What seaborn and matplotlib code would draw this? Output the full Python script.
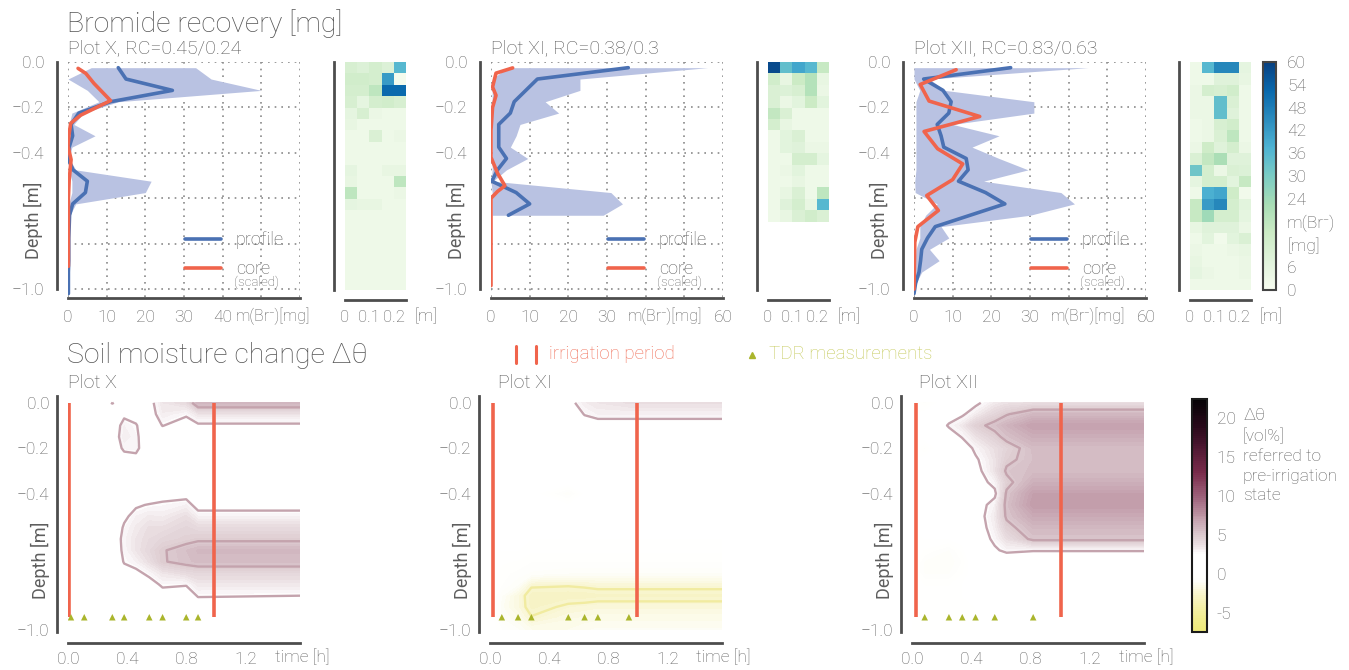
import numpy as np
import pandas as pd
import matplotlib
matplotlib.use('Agg')
import matplotlib.pyplot as plt
import seaborn as sns
from matplotlib.colors import LinearSegmentedColormap
from matplotlib.lines import Line2D

# ---------------- data ----------------
# Bromide profiles (depth [m] negative, mass [mg])
prof_depth = [-0.025, -0.075, -0.125, -0.175, -0.225, -0.275, -0.325, -0.375, -0.425, -0.475,
              -0.525, -0.575, -0.625, -0.675, -0.725, -0.775, -0.825, -0.875, -0.925, -0.975, -1.02]

profX = [13, 15, 27, 11, 2.8, 0.8, 1.2, 0.3, 0.0, 1.3, 5.0, 4.5, 1.2, 0.4, 0.3, 0.2, 0.2, 0.2, 0.1, 0.1, 0.1]
profX_lo = [6, 0, 5, 8, 1, 0.3, 0, 0, 0, 0.3, 1, 1, 0.2, 0.1, 0.1, 0.1, 0.1, 0.1, 0.1, 0.1, 0.1]
profX_hi = [33, 37, 50, 13, 4, 1.5, 7, 1, 0.3, 2, 21.5, 20, 2, 0.5, 0.3, 0.2, 0.2, 0.2, 0.1, 0.1, 0.1]
coreX_depth = [-0.028, -0.05, -0.094, -0.17, -0.234, -0.27, -0.315, -0.37, -0.43, -0.52, -0.6, -0.7, -0.8, -0.9]
coreX = [2.6, 4.6, 6.7, 11, 3.3, 0.7, 0.3, 0.0, 0.8, 0.3, 0.1, 0.1, 0.1, 0.1]

profXI = [35.5, 12, 9, 6, 5, 2, 2, 2, 4, 1.7, 0.2, 6.5, 10, 4.5]
profXI_lo = [4, 0.4, 0.3, 0.3, 0.3, 0.3, 0.3, 0.3, 0.3, 0.3, 0.0, 0.3, 0.3, 0.3]
profXI_hi = [56, 23, 23, 14, 17.5, 7.5, 6.5, 5, 9.5, 4, 0.5, 31, 34, 29]
coreXI_depth = [-0.026, -0.049, -0.11, -0.147, -0.2, -0.25, -0.3, -0.42, -0.49, -0.545, -0.57, -0.6, -0.985]
coreXI = [5.6, 1.3, 0.4, 1.3, 0.4, 0.2, 0.0, 0.0, 1.7, 3.6, 1.7, 0.0, 0.0]

profXII = [25, 2.5, 7.5, 9.6, 9, 6, 7, 7.7, 13.5, 14, 11.5, 18.5, 23.5, 14.5, 5.5, 3.5, 2, 1.7, 1.3, 0.4, 0]
profXII_lo = [0, 0, 1.5, 0.5, 0.5, 0.5, 0.5, 0.5, 0.5, 0.5, 0.2, 0.3, 6, 3, 1.5, 1.5, 0.5, 0.3, 0.3, 0, 0]
profXII_hi = [45, 4, 8, 31, 31, 10, 22, 15, 22, 29.5, 18, 38, 41.5, 30, 7, 9, 4, 6.5, 2, 0.5, 0]
coreXII_depth = [-0.034, -0.099, -0.172, -0.24, -0.306, -0.382, -0.449, -0.518, -0.588, -0.654, -0.725, -0.794, -1.0]
coreXII = [10.9, 1.6, 3.9, 17, 2.6, 6.1, 12.6, 10, 3.3, 6.3, 1.0, 0.2, 0.0]

# Bromide core grids (rows: 0.05 m depth steps, cols: 0.05 m)
nan = np.nan
gridX = [[11, 9, 12, 9, 36], [13, 13, 12, 42, 1], [12, 12, 18, 52, 52], [11, 6, 12, 13, 11],
         [6, 11, 4, 3, 3], [5, 3, 3, 3, 3], [3, 3, 10, 3, 4], [3, 3, 3, 3, 3], [3, 3, 3, 3, 3],
         [6, 3, 3, 5, 5], [5, 3, 3, 3, 18], [18, 3, 3, 3, 4], [6, 5, 5, 3, 3], [3, 3, 3, 3, 3],
         [3, 3, 3, 3, 3], [3, 3, 3, 3, 3], [3, 3, 3, 3, 3], [3, 3, 3, 3, 3], [3, 3, 3, 3, 3],
         [3, 3, 3, 3, 3]]
gridXI = [[58, 34, 40, 36, 16], [13, 5, 15, 20, 5], [10, 9, 11, 20, 4], [10, 4, 7, 15, 7],
          [17, 10, 3, 3, 3], [12, 5, 3, 3, 3], [3, 7, 10, 3, 3], [3, 7, 8, 4, 4],
          [3, 3, 12, 12, 6], [3, 4, 7, 3, 3], [3, 3, 5, 3, 3], [3, 5, 10, 3, 18],
          [3, 8, 12, 5, 36], [3, 5, 10, 13, 10]] + [[nan] * 5] * 6
gridXII = [[3, 36, 46, 46, 6], [3, 3, 8, 8, 5], [4, 12, 11, 13, 3], [4, 4, 34, 10, 3],
           [4, 4, 34, 8, 3], [3, 4, 11, 13, 3], [3, 4, 10, 18, 3], [4, 14, 8, 12, 4],
           [10, 17, 22, 8, 8], [32, 12, 4, 10, 9], [6, 12, 12, 7, 16], [3, 38, 40, 14, 2],
           [16, 42, 46, 12, 7], [16, 24, 12, 12, 6], [5, 8, 8, 8, 4], [3, 7, 2, 7, 10],
           [4, 3, 3, 4, 5], [5, 3, 3, 3, 4], [6, 4, 3, 3, 4], [3, 3, 3, 3, 3]]

# Soil moisture change (depth rows 0..1.0 m by 0.05, one list per time column)
theta_depth = [0.0, 0.05, 0.10, 0.15, 0.20, 0.25, 0.30, 0.35, 0.40, 0.45, 0.50,
               0.55, 0.60, 0.65, 0.70, 0.75, 0.80, 0.85, 0.90, 0.95, 1.00]

timesX = [0.0, 0.11, 0.30, 0.38, 0.46, 0.55, 0.64, 0.80, 0.88, 1.57]
thetaX = [
    [0] * 21,
    [0.5, 0.4, 0.4, 0.4, 0.3, 0.3, 0.3, 0.3, 0.3, 0.3, 0.3, 0.4, 0.5, 0.5, 0.4, 0.3, 0.3, 0.3, 0.3, 0.3, 0.3],
    [2.6, 1.2, 1.5, 1.6, 1.4, 1.0, 0.6, 0.5, 0.5, 0.6, 0.9, 1.2, 1.5, 1.5, 1.3, 1.0, 0.7, 0.5, 0.4, 0.3, 0.3],
    [1.8, 2.2, 3.0, 3.2, 2.8, 1.8, 1.0, 0.8, 0.9, 1.6, 2.2, 2.7, 2.9, 2.8, 2.6, 2.0, 1.4, 0.9, 0.6, 0.4, 0.3],
    [1.5, 2.0, 2.6, 2.8, 2.9, 2.0, 1.2, 1.0, 1.2, 2.3, 3.0, 3.3, 3.5, 3.5, 3.0, 2.2, 1.5, 1.0, 0.6, 0.4, 0.3],
    [2.0, 1.8, 1.5, 1.3, 1.2, 1.0, 0.9, 0.9, 1.3, 2.6, 3.3, 3.8, 4.0, 4.2, 3.8, 2.8, 2.0, 1.3, 0.8, 0.5, 0.4],
    [3.5, 3.2, 2.55, 1.5, 1.0, 0.8, 0.7, 0.8, 2.0, 2.7, 3.2, 3.8, 4.3, 4.9, 4.9, 3.5, 2.7, 2.0, 1.2, 0.7, 0.5],
    [4.0, 2.7, 1.8, 1.2, 0.9, 0.8, 0.7, 0.8, 2.0, 3.0, 3.8, 4.3, 4.6, 5.5, 5.4, 4.0, 2.6, 1.8, 1.2, 0.7, 0.5],
    [6.0, 3.5, 2.3, 1.4, 1.0, 0.8, 0.7, 0.8, 1.4, 2.0, 3.0, 4.0, 4.8, 5.8, 5.6, 4.2, 3.4, 2.6, 1.8, 1.0, 0.6],
    [6.0, 3.5, 2.3, 1.4, 1.0, 0.8, 0.7, 0.8, 1.4, 2.0, 3.0, 4.0, 4.8, 5.8, 5.6, 4.2, 3.4, 2.5, 1.8, 1.0, 0.6],
]
tdrX = [0.02, 0.11, 0.30, 0.38, 0.55, 0.64, 0.80, 0.88]
irrX = [0.01, 0.985]

timesXI = [0.0, 0.08, 0.19, 0.28, 0.53, 0.64, 0.73, 0.94, 1.57]
thetaXI = [
    [0] * 21,
    [0.3, 0.2, 0.2, 0.2, 0.2, 0.2, 0.2, 0.2, 0.2, 0.2, 0.2, 0.2, 0.1, 0.0, -0.2, -0.4, -0.5, -1.0, -1.2, -1.0, -0.5],
    [0.5, 0.3, 0.3, 0.2, 0.2, 0.2, 0.2, 0.2, 0.2, 0.2, 0.2, 0.2, 0.1, 0.0, -0.3, -0.6, -1.0, -2.0, -2.0, -1.5, -1.0],
    [0.8, 0.4, 0.3, 0.2, 0.2, 0.2, 0.2, 0.2, 0.2, 0.2, 0.2, 0.1, 0.0, -0.2, -0.5, -0.8, -2.3, -3.0, -2.9, -2.4, -1.5],
    [2.0, 1.0, 0.5, 0.3, 0.2, 0.2, 0.2, 0.2, -1.0, 0.0, 0.2, 0.1, 0.0, -0.2, -0.5, -1.0, -2.4, -3.0, -2.3, -1.8, -1.5],
    [3.2, 2.6, 1.5, 0.5, 0.3, 0.2, 0.2, 0.2, 0.0, 0.1, 0.2, 0.1, 0.0, -0.2, -0.5, -1.0, -2.3, -3.0, -2.2, -1.7, -1.3],
    [3.5, 3.0, 1.8, 0.6, 0.3, 0.2, 0.2, 0.2, 0.1, 0.1, 0.2, 0.1, 0.0, -0.2, -0.5, -1.0, -2.2, -2.9, -2.1, -1.6, -1.2],
    [3.8, 3.0, 1.8, 0.6, 0.3, 0.2, 0.2, 0.2, 0.1, 0.1, 0.2, 0.1, 0.0, -0.2, -0.5, -1.0, -2.2, -2.9, -2.1, -1.6, -1.2],
    [3.8, 3.0, 1.8, 0.6, 0.3, 0.2, 0.2, 0.2, 0.1, 0.1, 0.2, 0.1, 0.0, -0.2, -0.5, -1.0, -2.2, -2.9, -2.1, -1.6, -1.2],
]
tdrXI = [0.08, 0.19, 0.28, 0.53, 0.64, 0.73, 0.94]
irrXI = [0.018, 0.995]

timesXII = [0.0, 0.086, 0.25, 0.34, 0.43, 0.56, 0.64, 0.82, 1.57]
thetaXII = [
    [0] * 21,
    [-0.6, 0.2, 0.2, 0.2, -0.6, 0.2, 0.2, 0.2, 0.2, 0.2, 0.2, 0.2, 0.0, -0.3, -0.8, -0.8, -0.3, 0.0, 0.0, 0.0, 0.0],
    [0.5, 1.6, 2.7, 1.6, 0.8, 0.4, 0.3, 0.3, 0.3, 0.3, 0.3, 0.2, 0.0, -0.8, -1.0, -0.8, -0.3, 0.0, 0.0, 0.0, 0.0],
    [1.2, 2.3, 3.4, 2.6, 1.6, 1.0, 0.8, 0.6, 0.6, 0.6, 0.5, 0.4, 0.2, -0.2, -0.5, -0.3, 0.0, 0.0, 0.0, 0.0, 0.0],
    [2.2, 3.2, 4.6, 3.6, 2.8, 2.3, 2.0, 1.8, 1.5, 1.8, 1.8, 1.7, 1.5, 1.0, 0.5, 0.3, 0.2, 0.1, 0.0, 0.0, 0.0],
    [3.3, 4.3, 5.4, 4.6, 3.8, 3.6, 3.6, 2.9, 2.2, 3.0, 3.3, 3.1, 2.8, 2.3, 1.4, 0.8, 0.5, 0.3, 0.3, 0.3, 0.3],
    [3.6, 4.9, 6.0, 5.4, 4.4, 4.7, 5.2, 4.6, 5.2, 5.4, 5.2, 4.6, 3.8, 2.8, 1.4, 0.8, 0.5, 0.3, 0.3, 0.3, 0.3],
    [3.8, 5.8, 7.0, 6.3, 5.6, 5.5, 5.6, 6.2, 7.0, 7.2, 6.5, 5.8, 5.3, 2.6, 1.2, 0.6, 0.4, 0.3, 0.3, 0.3, 0.3],
    [3.8, 5.8, 7.0, 6.3, 5.6, 5.5, 5.6, 6.2, 7.0, 7.2, 6.5, 5.8, 5.3, 2.6, 1.2, 0.6, 0.4, 0.3, 0.3, 0.3, 0.3],
]
tdrXII = [0.086, 0.25, 0.34, 0.43, 0.56, 0.82]
irrXII = [0.03, 1.01]

top_titles = ['Plot X, RC=0.45/0.24', 'Plot XI, RC=0.38/0.3', 'Plot XII, RC=0.83/0.63']
bottom_titles = ['Plot X', 'Plot XI', 'Plot XII']
cbar_top_ticks = [0, 6, 12, 18, 24, 30, 36, 42, 48, 54, 60]
cbar_top_labels = ['0', '6', '[mg]', 'm(Br⁻)', '24', '30', '36', '42', '48', '54', '60']
cbar_bot_ticks = [-5, 0, 5, 10, 15, 20]
cbar_bot_labels = ['-5', '0', '5', '10', '15', '20']

# ---------------- style ----------------
sns.set_theme(style='white')
plt.rcParams['font.family'] = ['Roboto', 'DejaVu Sans']
plt.rcParams['font.weight'] = 'light'
plt.rcParams['axes.unicode_minus'] = True

BLUE = '#4a71b3'
RED = '#f0644c'
BAND = '#b9c2e2'
OLIVE = '#aab52c'
OLIVE_TXT = '#c6cb5e'
SPINE = '#4d4d4d'
TXT = '#5e5e5e'
TITLE = '#555555'

dt_nodes = [(-7.5, '#eee978'), (-5, '#f2ee9c'), (-3, '#f7f3c4'), (-1, '#fefefa'), (0, '#ffffff'),
            (2.5, '#ffffff'), (3.5, '#eee4e7'), (5, '#dccacf'), (7, '#c4a0ad'), (10, '#9c6079'),
            (13, '#7a2c4c'), (16, '#521a34'), (19, '#28091a'), (22.5, '#050205')]
DT_CMAP = LinearSegmentedColormap.from_list('dtheta', [((v + 7.5) / 30.0, c) for v, c in dt_nodes])
DT_NORM = plt.Normalize(-7.5, 22.5)
DT_LEVELS = np.arange(-7.5, 22.51, 0.25)

W, H = 1349, 670
fig = plt.figure(figsize=(W / 100, H / 100), dpi=100)


def box(l, t, r, b):
    return fig.add_axes([l / W, 1 - b / H, (r - l) / W, (b - t) / H])


def ftext(x, y, s, **kw):
    kw.setdefault('color', TXT)
    return fig.text(x / W, 1 - y / H, s, **kw)


def style_spines(ax, left_off, bottom_off):
    for s in ['top', 'right']:
        ax.spines[s].set_visible(False)
    for s in ['left', 'bottom']:
        ax.spines[s].set_visible(True)
        ax.spines[s].set_color(SPINE)
        ax.spines[s].set_linewidth(2)
    ax.spines['left'].set_position(('outward', left_off))
    ax.spines['bottom'].set_position(('outward', bottom_off))


# ---------------- top row: bromide profiles ----------------
top_line_x = [68, 491, 914]
top_heat_x = [345, 768, 1190]
profiles = [
    (prof_depth, profX, profX_lo, profX_hi, coreX_depth, coreX),
    (prof_depth[:14], profXI, profXI_lo, profXI_hi, coreXI_depth, coreXI),
    (prof_depth, profXII, profXII_lo, profXII_hi, coreXII_depth, coreXII),
]
grids = [gridX, gridXI, gridXII]
xlabels_sets = [['0', '10', '20', '30', '40', '', ''], ['0', '10', '20', '30', '', '', '60'],
                ['0', '10', '20', '30', '', '', '60']]
mlabel_x = [273, 665, 1088]
mm_x = [426, 849, 1271]

heat_axes = []
for i in range(3):
    x0 = top_line_x[i]
    ax = box(x0, 62, x0 + 232, 297)
    d, p, lo, hi, cd, cv = profiles[i]
    ax.fill_betweenx(d, lo, hi, color=BAND, lw=0, zorder=1)
    sns.lineplot(x=p, y=d, sort=False, estimator=None, color=BLUE, lw=2.6, ax=ax, label='profile', zorder=3)
    sns.lineplot(x=cv, y=cd, sort=False, estimator=None, color=RED, lw=2.6, ax=ax, label='core', zorder=4)
    ax.set_xlim(0, 60)
    ax.set_ylim(-1.035, 0.0)
    ax.set_xticks([0, 10, 20, 30, 40, 50, 60])
    ax.set_xticklabels(xlabels_sets[i])
    ax.set_yticks([0, -0.2, -0.4, -0.6, -0.8, -1.0])
    ax.set_yticklabels(['0.0', '\u22120.2', '\u22120.4', '', '', '\u22121.0'])
    ax.grid(True, ls=(0, (1, 3)), color='#8a8a8a', lw=1.2)
    ax.set_axisbelow(True)
    style_spines(ax, 8, 1)
    ax.spines['left'].set_bounds(-1.0, 0.0)
    ax.tick_params(axis='both', length=0, labelsize=12.5, colors=TXT)
    ax.tick_params(axis='y', pad=9)
    ax.tick_params(axis='x', pad=8)
    ax.set_xlabel('')
    ax.set_ylabel('Depth [m]', fontsize=13, color=TXT)
    ax.yaxis.set_label_coords(-25 / 232, (297 - 220) / 235)
    ax.legend(loc='upper left', bbox_to_anchor=(0.505, 0.28), frameon=False, handlelength=2.0,
              handletextpad=0.8, labelspacing=0.6, fontsize=13, borderpad=0, borderaxespad=0,
              labelcolor=TXT)
    ax.text(0.715, (297 - 282) / 235, '(scaled)', transform=ax.transAxes, fontsize=9.5,
            color=TXT, va='center', ha='left')
    ftext(x0, 53, top_titles[i], fontsize=14, color=TITLE, va='baseline', ha='left')
    ftext(mlabel_x[i], 316, 'm(Br⁻)[mg]', fontsize=11.5, ha='center', va='center')

    hx = top_heat_x[i]
    hax = box(hx, 62, hx + 61, 290)
    df = pd.DataFrame(grids[i], columns=['c0', 'c1', 'c2', 'c3', 'c4'])
    sns.heatmap(df, cmap='GnBu', vmin=0, vmax=60, cbar=False, ax=hax,
                xticklabels=False, yticklabels=False)
    hax.set_xticks([0, 1, 2, 3, 4, 5])
    hax.set_xticklabels(['0', '', '0.1', '', '0.2', ''], rotation=0)
    hax.set_yticks([])
    style_spines(hax, 8, 7)
    hax.tick_params(axis='x', length=2.5, width=1, color=SPINE, labelsize=12, colors=TXT, pad=5)
    hax.set_xlabel('')
    hax.set_ylabel('')
    ftext(mm_x[i], 316, '[m]', fontsize=12.5, ha='center', va='center')
    heat_axes.append(hax)

cax = box(1263, 62, 1276, 290)
cb = fig.colorbar(heat_axes[2].collections[0], cax=cax)
cb.set_ticks(cbar_top_ticks)
cb.set_ticklabels(cbar_top_labels)
cb.outline.set_edgecolor('#444444')
cb.outline.set_linewidth(1.5)
cax.tick_params(length=0, pad=8, labelsize=12.5, colors=TXT)

ftext(67, 32, 'Bromide recovery [mg]', fontsize=20.5, color=TITLE, va='baseline', ha='left')

# ---------------- bottom row: soil moisture change ----------------
bot_x = [68, 490, 912]
thetas = [(timesX, thetaX, tdrX, irrX), (timesXI, thetaXI, tdrXI, irrXI),
          (timesXII, thetaXII, tdrXII, irrXII)]
sub_x = [68, 498, 919]
time_lbl_x = [302, 723, 1146]
cf = None
for i in range(3):
    x0 = bot_x[i]
    ax = box(x0, 396, x0 + 232, 632)
    times, cols, tdr, irr = thetas[i]
    Z = np.array(cols, dtype=float).T
    T, D = np.meshgrid(times, -np.array(theta_depth))
    cf = ax.contourf(T, D, Z, levels=DT_LEVELS, cmap=DT_CMAP, norm=DT_NORM, zorder=1)
    ax.contour(T, D, Z, levels=[-2.5, 2.5, 5], colors=['#f1eba0', '#c4a3ad', '#c4a3ad'],
               linewidths=1.7, zorder=2)
    ax.vlines(irr, -0.945, 0.0, color=RED, lw=2.6, zorder=3)
    sns.scatterplot(x=tdr, y=[-0.945] * len(tdr), marker='^', s=22, color=OLIVE,
                    edgecolor='none', ax=ax, zorder=4)
    ax.set_xlim(0, 1.57)
    ax.set_ylim(-1.01, 0.03)
    ax.set_xticks([0, 0.2, 0.4, 0.6, 0.8, 1.0, 1.2, 1.4])
    ax.set_xticklabels(['0.0', '', '0.4', '', '0.8', '', '1.2', ''])
    yt = [0, -0.1, -0.2, -0.3, -0.4, -0.5, -0.6, -0.7, -0.8, -0.9, -1.0]
    ax.set_yticks(yt)
    ax.set_yticklabels(['0.0', '', '\u22120.2', '', '\u22120.4', '', '', '', '', '', '\u22121.0'])
    style_spines(ax, 8, 8)
    ax.tick_params(axis='both', length=3, width=1, color=SPINE, labelsize=12.5, colors=TXT)
    ax.tick_params(axis='y', pad=2.5)
    ax.tick_params(axis='x', pad=3.5)
    ax.set_ylabel('Depth [m]', fontsize=13, color=TXT)
    ax.yaxis.set_label_coords(-18 / 232, (632 - 560) / 236)
    ax.set_xlabel('')
    ftext(sub_x[i], 388, bottom_titles[i], fontsize=14, color=TITLE, va='baseline', ha='left')
    ftext(time_lbl_x[i], 657, 'time [h]', fontsize=12.5, ha='center', va='center')

cax2 = box(1192, 399, 1207, 632)
cb2 = fig.colorbar(cf, cax=cax2)
cb2.set_ticks(cbar_bot_ticks)
cb2.set_ticklabels(cbar_bot_labels)
cb2.outline.set_edgecolor('#1a1a1a')
cb2.outline.set_linewidth(1.5)
cax2.tick_params(length=0, pad=7, labelsize=12.5, colors=TXT)
ftext(1243, 408, 'Δθ\n[vol%]\nreferred to\npre-irrigation\nstate', fontsize=12.5,
      ha='left', va='top', linespacing=1.38)

ftext(67, 363, 'Soil moisture change Δθ', fontsize=20.5, color=TITLE, va='baseline', ha='left')

# legend for the bottom row
for xx in (516, 536):
    fig.add_artist(Line2D([xx / W, xx / W], [1 - 346 / H, 1 - 363 / H], color=RED, lw=2.2,
                          transform=fig.transFigure))
ftext(549, 354, 'irrigation period', fontsize=13.5, color='#f0705a', ha='left', va='center')
fig.add_artist(Line2D([752 / W], [1 - 355 / H], marker='^', ms=4.5, color=OLIVE, ls='none',
                      transform=fig.transFigure))
ftext(769, 354, 'TDR measurements', fontsize=13.5, color=OLIVE_TXT, ha='left', va='center')

fig.savefig('out.png', dpi=100)
